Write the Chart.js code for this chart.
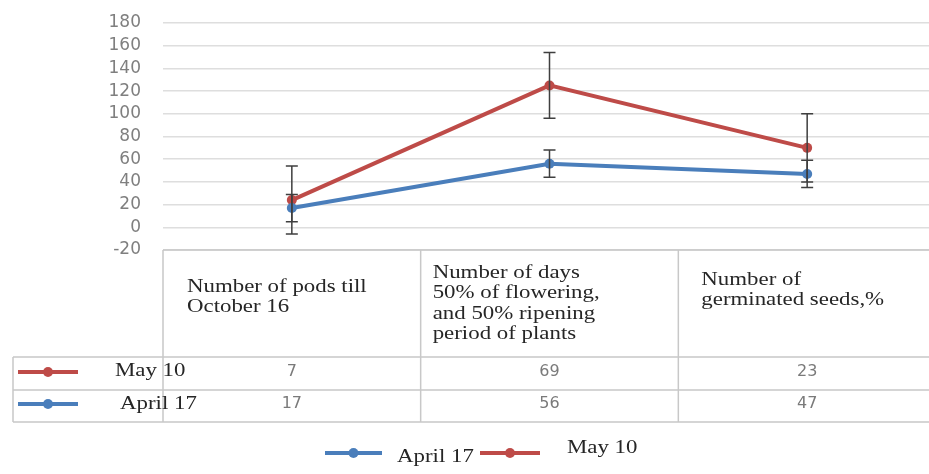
<!DOCTYPE html>
<html>
<head>
<meta charset="utf-8">
<script src="https://cdn.jsdelivr.net/npm/chart.js@4"></script>
<style>
  html, body { margin: 0; padding: 0; background: #fff; overflow: hidden; }
  #wrap { width: 941px; height: 474px; }
</style>
</head>
<body>
<div id="wrap"><canvas id="chart" width="941" height="474"></canvas></div>
<script>
// données du graphique (lignes empilées, May 10 au-dessus de April 17)
const categories = ['pods', 'days', 'seeds'];
const headerLines = [
    ['Number of pods till', 'October 16'],
    ['Number of days', '50% of flowering,', 'and 50% ripening', 'period of plants'],
    ['Number of', 'germinated seeds,%']
];
const seriesNames = ['April 17', 'May 10'];
const april17 = [17, 56, 47];
const may10 = [7, 69, 23];
const april17Err = [12, 12, 12];
const may10Err = [30, 29, 30];
const yTicks = { min: -20, max: 180, step: 20 };

const BLUE = '#4a7ebb';
const RED = '#be4b48';
const GRID = '#dedede';
const SERIF = '"Liberation Serif", "Times New Roman", serif';
const SX = 1.27; // le texte de la figure est étiré horizontalement

function stretchText(ctx, text, x, y) {
    ctx.save();
    ctx.translate(x, y);
    ctx.scale(SX, 1);
    ctx.fillText(text, 0, 0);
    ctx.restore();
}

function lineMarker(ctx, x1, x2, y, color) {
    ctx.save();
    ctx.strokeStyle = color;
    ctx.lineWidth = 4;
    ctx.beginPath();
    ctx.moveTo(x1, y);
    ctx.lineTo(x2, y);
    ctx.stroke();
    ctx.fillStyle = color;
    ctx.beginPath();
    ctx.arc((x1 + x2) / 2, y, 5, 0, Math.PI * 2);
    ctx.fill();
    ctx.restore();
}

// barres d'erreur
const errorBars = {
    id: 'errorBars',
    afterDatasetsDraw(chart) {
        const ctx = chart.ctx;
        const y = chart.scales.y;
        const errs = [april17Err, may10Err];
        ctx.save();
        ctx.strokeStyle = '#3f3f3f';
        ctx.lineWidth = 1.5;
        errs.forEach((err, i) => {
            const meta = chart.getDatasetMeta(i);
            meta.data.forEach((pt, j) => {
                const v = y.getValueForPixel(pt.y);
                const top = y.getPixelForValue(v + err[j]);
                const bot = y.getPixelForValue(v - err[j]);
                ctx.beginPath();
                ctx.moveTo(pt.x, top);
                ctx.lineTo(pt.x, bot);
                ctx.moveTo(pt.x - 6, top);
                ctx.lineTo(pt.x + 6, top);
                ctx.moveTo(pt.x - 6, bot);
                ctx.lineTo(pt.x + 6, bot);
                ctx.stroke();
            });
        });
        ctx.restore();
    }
};

// table de données sous le graphique + légende
const dataTable = {
    id: 'dataTable',
    afterDraw(chart) {
        const ctx = chart.ctx;
        const area = chart.chartArea;
        const x = chart.scales.x;
        const colW = (area.right - area.left) / categories.length;
        const top = area.bottom;
        const rowTop = 357, rowMid = 390, rowBot = 422;
        const rowY = [372, 404];

        ctx.save();
        ctx.strokeStyle = '#c8c8c8';
        ctx.lineWidth = 1.5;
        ctx.beginPath();
        ctx.moveTo(area.left, top);
        ctx.lineTo(area.right, top);
        for (let i = 0; i <= categories.length; i++) {
            const bx = area.left + i * colW;
            ctx.moveTo(bx, top);
            ctx.lineTo(bx, rowBot);
        }
        [rowTop, rowMid, rowBot].forEach(ry => {
            ctx.moveTo(13, ry);
            ctx.lineTo(area.right, ry);
        });
        ctx.moveTo(13, rowTop);
        ctx.lineTo(13, rowBot);
        ctx.stroke();

        // en-têtes
        const inset = [24, 12, 23];
        const firstLine = [287, 273, 280];
        ctx.fillStyle = '#262626';
        ctx.font = '18px ' + SERIF;
        ctx.textAlign = 'left';
        ctx.textBaseline = 'middle';
        headerLines.forEach((lines, i) => {
            const lx = area.left + i * colW + inset[i];
            lines.forEach((t, k) => stretchText(ctx, t, lx, firstLine[i] + k * 20.5));
        });

        // valeurs
        ctx.fillStyle = '#7a7a7a';
        ctx.font = '16px "DejaVu Sans", sans-serif';
        ctx.textAlign = 'center';
        [may10, april17].forEach((vals, r) => {
            vals.forEach((v, j) => ctx.fillText(String(v), x.getPixelForValue(j), rowY[r]));
        });

        // étiquettes des lignes
        ctx.fillStyle = '#262626';
        ctx.font = '18px ' + SERIF;
        ctx.textAlign = 'left';
        lineMarker(ctx, 18, 78, rowY[0], RED);
        stretchText(ctx, seriesNames[1], 115, rowY[0] - 1);
        lineMarker(ctx, 18, 78, rowY[1], BLUE);
        stretchText(ctx, seriesNames[0], 120, rowY[1]);

        // légende
        lineMarker(ctx, 325, 382, 453, BLUE);
        stretchText(ctx, seriesNames[0], 397, 457);
        lineMarker(ctx, 480, 540, 453, RED);
        stretchText(ctx, seriesNames[1], 567, 448);
        ctx.restore();
    }
};

const config = {
    type: 'line',
    data: {
        labels: categories,
        datasets: [
            {
                label: seriesNames[0],
                data: april17,
                borderColor: BLUE,
                backgroundColor: BLUE,
                borderWidth: 4,
                pointRadius: 5,
                pointBorderWidth: 0,
                tension: 0,
                fill: false
            },
            {
                label: seriesNames[1],
                data: may10,
                borderColor: RED,
                backgroundColor: RED,
                borderWidth: 4,
                pointRadius: 5,
                pointBorderWidth: 0,
                tension: 0,
                fill: false
            }
        ]
    },
    options: {
        responsive: false,
        animation: false,
        layout: { padding: { top: 23, bottom: 224, left: 0, right: 0 } },
        plugins: {
            legend: { display: false },
            tooltip: { enabled: false },
            title: { display: false }
        },
        scales: {
            x: { display: false, offset: true },
            y: {
                stacked: true,
                min: yTicks.min,
                max: yTicks.max,
                afterFit(scale) {
                    scale.width = 163;
                    scale.paddingTop = 0;
                    scale.paddingBottom = 0;
                },
                ticks: {
                    stepSize: yTicks.step,
                    autoSkip: false,
                    padding: 22,
                    color: '#7f7f7f',
                    font: { family: '"DejaVu Sans", sans-serif', size: 17 }
                },
                grid: {
                    color: GRID,
                    lineWidth: 1.5,
                    drawTicks: false
                },
                border: { display: false }
            }
        }
    },
    plugins: [errorBars, dataTable]
};

new Chart(document.getElementById('chart'), config);
</script>
</body>
</html>
